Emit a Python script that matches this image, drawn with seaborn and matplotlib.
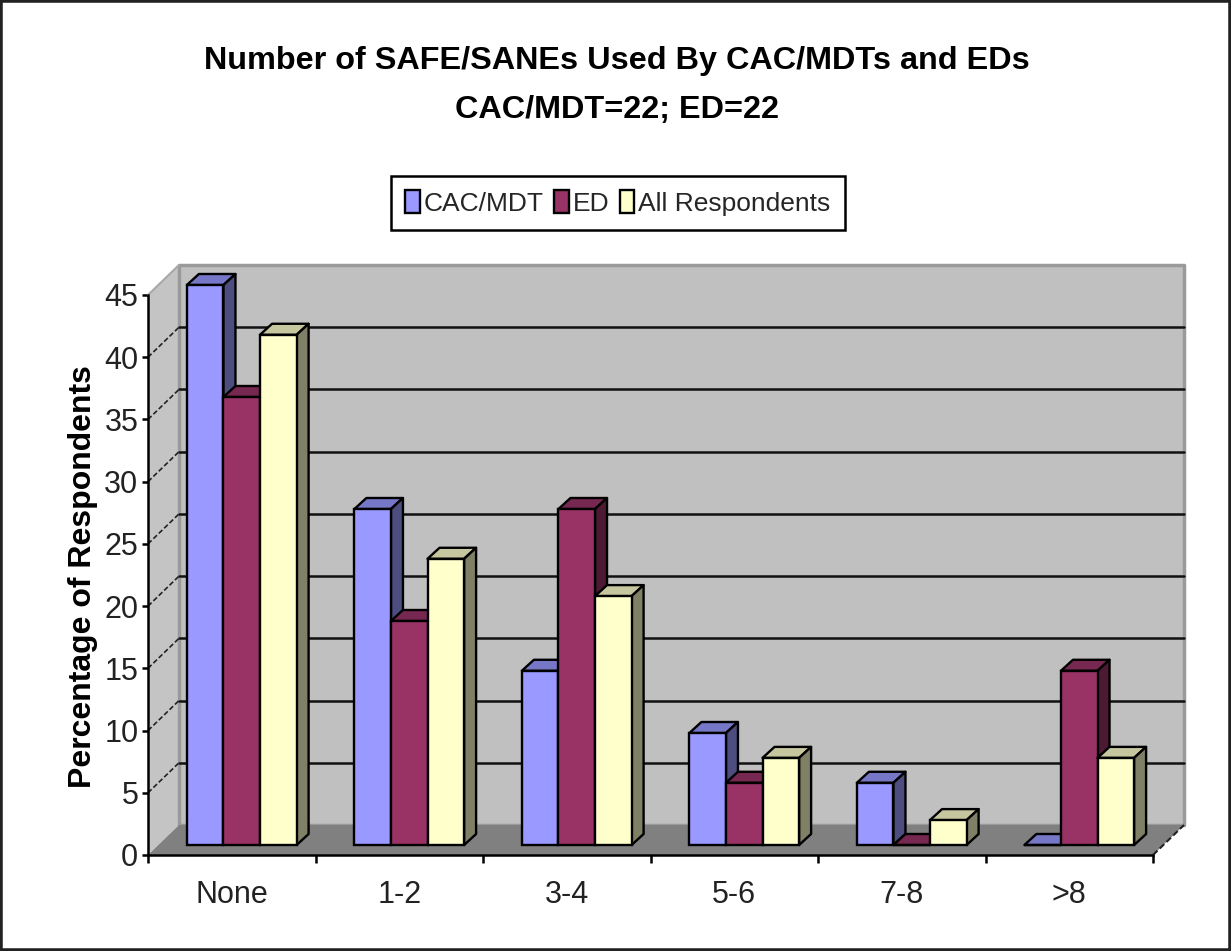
import numpy as np
import pandas as pd
import seaborn as sns
import matplotlib
matplotlib.use("Agg")
import matplotlib.pyplot as plt
from matplotlib.colors import to_rgb
from matplotlib.patches import Polygon, Rectangle
from matplotlib.transforms import Affine2D, IdentityTransform

categories = ["None", "1-2", "3-4", "5-6", "7-8", ">8"]
cac_mdt = [45, 27, 14, 9, 5, 0]
ed = [36, 18, 27, 5, 0, 14]
all_resp = [41, 23, 20, 7, 2, 7]
series_names = ["CAC/MDT", "ED", "All Respondents"]
colors = ["#9999FF", "#993366", "#FFFFCC"]
y_ticks = list(range(0, 50, 5))

df = pd.DataFrame({"cat": categories, "CAC/MDT": cac_mdt, "ED": ed, "All Respondents": all_resp})
df = df.melt(id_vars="cat", var_name="series", value_name="pct")

sns.set_theme(style="white")
plt.rcParams["font.family"] = ["Liberation Sans", "DejaVu Sans"]

W, H = 1231, 951
fig = plt.figure(figsize=(W / 100, H / 100), dpi=100, facecolor="white")
ax = fig.add_axes([148 / W, 1 - 855 / H, (1153 - 148) / W, 560 / H])
ax.patch.set_alpha(0)

sns.barplot(data=df, x="cat", y="pct", hue="series", order=categories, hue_order=series_names,
            palette=colors, saturation=1, width=0.655, gap=0, edgecolor="black", linewidth=1.7, ax=ax)
ax.set_xlim(-0.5, 5.5)
ax.set_ylim(0, 45)


def px(x, y, dx=0, dy=0):
    p = ax.transData.transform((x, y))
    return (p[0] + dx, p[1] + dy)


def face(points, color, z, ec="black", lw=1.7):
    ax.add_patch(Polygon(points, closed=True, transform=IdentityTransform(), facecolor=color,
                         edgecolor=ec, linewidth=lw, zorder=z, clip_on=False, joinstyle="round"))


def shade(color, f):
    return tuple(c * f for c in to_rgb(color))


# walls and floor
wx, wy = 31, 30
face([px(-0.5, 0), px(-0.5, 45), px(-0.5, 45, wx, wy), px(-0.5, 0, wx, wy)], "#C4C4C4", 0.5, "none", 0)
face([px(-0.5, 0, wx, wy), px(-0.5, 45, wx, wy), px(5.5, 45, wx, wy), px(5.5, 0, wx, wy)], "#C0C0C0", 0.6, "#9A9A9A", 2.5)
face([px(-0.5, 0), px(-0.5, 0, wx, wy), px(5.5, 0, wx, wy), px(5.5, 0)], "#808080", 0.7, "none", 0)
ax.plot(*zip(px(-0.5, 45), px(-0.5, 45, wx, wy)), transform=IdentityTransform(), color="#A8A8A8", lw=1.5, zorder=0.8, clip_on=False)

# gridlines on the back wall and dashed ones on the side wall
for t in y_ticks[1:-1]:
    ax.plot(*zip(px(-0.5, t, wx, wy), px(5.5, t, wx, wy)), transform=IdentityTransform(), color="#111111", lw=1.8, zorder=1, clip_on=False)
    ax.plot(*zip(px(-0.5, t), px(-0.5, t, wx, wy)), transform=IdentityTransform(), color="#222222", lw=1.2, ls=(0, (3, 1.5)), zorder=1, clip_on=False)
ax.plot(*zip(px(5.5, 0), px(5.5, 0, wx, wy)), transform=IdentityTransform(), color="#222222", lw=1.5, ls=(0, (3, 1.5)), zorder=1, clip_on=False)

# 3d bars, built from the bars seaborn drew
ox, oy = 10, 10
dx, dy = 12, 11
shift = ax.transData + Affine2D().translate(ox, oy)
for i, (bars, color) in enumerate(zip(ax.containers, colors)):
    z = 3 + i
    for b in bars:
        b.set_transform(shift)
        b.set_zorder(z + 0.5)
        b.set_clip_on(False)
        x0, x1, h = b.get_x(), b.get_x() + b.get_width(), b.get_height()
        face([px(x0, h, ox, oy), px(x1, h, ox, oy), px(x1, h, ox + dx, oy + dy), px(x0, h, ox + dx, oy + dy)],
             shade(color, 0.78), z)
        face([px(x1, 0, ox, oy), px(x1, h, ox, oy), px(x1, h, ox + dx, oy + dy), px(x1, 0, ox + dx, oy + dy)],
             shade(color, 0.5), z)

# axes
sns.despine(ax=ax)
for s in ["left", "bottom"]:
    ax.spines[s].set_color("black")
    ax.spines[s].set_linewidth(1.8)
    ax.spines[s].set_zorder(2)
ax.set_yticks(y_ticks)
ax.set_xticks(np.arange(-0.5, 6), minor=True)
ax.tick_params(axis="x", which="minor", bottom=True, length=6, width=1.8, color="black")
ax.tick_params(axis="x", which="major", bottom=False, labelsize=22, pad=12, labelcolor="#222222")
ax.tick_params(axis="y", left=True, length=4, width=1.8, color="black", labelsize=22, pad=3, labelcolor="#222222")
ax.set_xlabel("")
ax.set_ylabel("Percentage of Respondents", fontsize=23, fontweight="bold", color="black")
ax.yaxis.set_label_coords((98 - 148) / 1005, (855 - 577) / 560)

# legend
sns.move_legend(ax, loc="center", bbox_to_anchor=(618 / W, 1 - 203 / H), bbox_transform=fig.transFigure,
                ncol=3, title=None, frameon=True, fancybox=False, edgecolor="black", framealpha=1,
                fontsize=19, handlelength=0.55, handleheight=0.95, handletextpad=0.15,
                columnspacing=0.4, borderpad=0.55, borderaxespad=0)
leg = ax.get_legend()
leg.get_frame().set_linewidth(1.8)
leg.set_zorder(10)

# titles
fig.text(617 / W, 1 - 61 / H, "Number of SAFE/SANEs Used By CAC/MDTs and EDs", ha="center", va="center",
         fontsize=23.3, fontweight="bold", color="black")
fig.text(617 / W, 1 - 110 / H, "CAC/MDT=22; ED=22", ha="center", va="center",
         fontsize=23.3, fontweight="bold", color="black")

# outer frame
fig.add_artist(Rectangle((0, 0), 1, 1, transform=fig.transFigure, fill=False, edgecolor="#222222", linewidth=4))

fig.savefig("out.png", dpi=100)
